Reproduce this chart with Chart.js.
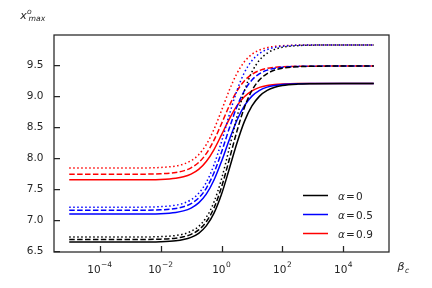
<!DOCTYPE html>
<html><head><meta charset="utf-8">
<script src="https://cdn.jsdelivr.net/npm/chart.js@4/dist/chart.umd.min.js"></script>
<style>html,body{margin:0;padding:0;background:#fff;}#wrap{width:432px;height:288px;}</style>
</head><body><div id="wrap"><canvas id="c" width="432" height="288"></canvas></div>
<script>
// beta_c values (x, log axis)
const betaC = [1e-5, 1e-4, 1e-3, 3.162e-3, 1e-2, 3.162e-2, 5.623e-2, 1e-1, 1.778e-1, 3.162e-1, 5.623e-1, 1, 1.778, 3.162, 5.623, 10, 17.78, 31.62, 56.23, 100, 316.2, 1000, 1e4, 1e5];
// alpha = 0 (black)
const a0_solid  = [6.65,6.65,6.65,6.652,6.656,6.671,6.690,6.726,6.791,6.910,7.110,7.418,7.817,8.231,8.587,8.839,8.997,9.088,9.140,9.168,9.190,9.196,9.20,9.20];
const a0_dashed = [6.69,6.69,6.691,6.692,6.697,6.713,6.734,6.774,6.845,6.976,7.195,7.532,7.969,8.422,8.812,9.088,9.261,9.360,9.416,9.447,9.470,9.477,9.48,9.48];
const a0_dotted = [6.73,6.73,6.731,6.732,6.737,6.755,6.778,6.822,6.901,7.046,7.289,7.663,8.147,8.648,9.080,9.386,9.577,9.687,9.749,9.783,9.809,9.817,9.82,9.82];
// alpha = 0.5 (blue)
const a5_solid  = [7.10,7.10,7.101,7.102,7.107,7.127,7.151,7.197,7.280,7.421,7.644,7.946,8.287,8.602,8.841,8.997,9.090,9.142,9.169,9.184,9.196,9.199,9.20,9.20];
const a5_dashed = [7.16,7.16,7.161,7.162,7.168,7.190,7.217,7.267,7.359,7.515,7.761,8.095,8.471,8.819,9.083,9.256,9.358,9.415,9.446,9.462,9.475,9.479,9.48,9.48];
const a5_dotted = [7.21,7.21,7.211,7.212,7.219,7.243,7.274,7.331,7.433,7.609,7.886,8.262,8.685,9.076,9.374,9.568,9.683,9.747,9.782,9.800,9.815,9.818,9.82,9.82];
// alpha = 0.9 (red)
const a9_solid  = [7.65,7.65,7.650,7.652,7.657,7.676,7.699,7.742,7.818,7.945,8.134,8.374,8.624,8.837,8.988,9.082,9.137,9.167,9.183,9.191,9.198,9.199,9.20,9.20];
const a9_dashed = [7.74,7.74,7.741,7.742,7.748,7.769,7.795,7.843,7.929,8.071,8.284,8.553,8.834,9.072,9.242,9.348,9.409,9.443,9.460,9.470,9.477,9.479,9.48,9.48];
const a9_dotted = [7.84,7.84,7.841,7.842,7.849,7.873,7.903,7.958,8.055,8.217,8.459,8.765,9.084,9.356,9.549,9.670,9.739,9.777,9.798,9.808,9.817,9.819,9.82,9.82];

const xTickValues = [1e-4, 1e-2, 1, 1e2, 1e4];
const xTickBase = '10';
const xTickExps = ['\u22124', '\u22122', '0', '2', '4'];
const yTickValues = [6.5, 7.0, 7.5, 8.0, 8.5, 9.0, 9.5];
const legendNums = ['0', '0.5', '0.9'];
const colors = ['#000000', '#0000ff', '#ff0000'];

const TXT = '#262626';
const mk = (arr, color, dash) => ({
  data: betaC.map((x, i) => ({x: x, y: arr[i]})),
  borderColor: color, borderWidth: 1.5, borderDash: dash,
  pointRadius: 0, fill: false, cubicInterpolationMode: 'monotone', borderCapStyle: 'butt'
});
const DASH = [5.5, 2.4], DOT = [1.5, 2.5];

const decor = {
  id: 'decor',
  afterDraw(chart) {
    const ctx = chart.ctx, a = chart.chartArea;
    const xs = chart.scales.x, ys = chart.scales.y;
    ctx.save();
    ctx.strokeStyle = TXT; ctx.lineWidth = 1.25;
    ctx.strokeRect(a.left, a.top, a.right - a.left, a.bottom - a.top);
    ctx.beginPath();
    xTickValues.forEach(v => { const p = Math.round(xs.getPixelForValue(v)) + 0.5; ctx.moveTo(p, a.bottom); ctx.lineTo(p, a.bottom - 6); });
    yTickValues.forEach(v => { const p = Math.round(ys.getPixelForValue(v)) + 0.5; ctx.moveTo(a.left, p); ctx.lineTo(a.left + 6, p); });
    ctx.stroke();
    ctx.fillStyle = TXT;
    ctx.textBaseline = 'alphabetic'; ctx.textAlign = 'left';
    // x tick labels 10^n
    xTickValues.forEach((v, i) => {
      const p = xs.getPixelForValue(v);
      ctx.font = '10.5px "DejaVu Sans"';
      const wb = ctx.measureText(xTickBase).width;
      ctx.font = '7.5px "DejaVu Sans"';
      const we = ctx.measureText(xTickExps[i]).width;
      const x0 = p - (wb + we + 0.5) / 2;
      ctx.font = '10.5px "DejaVu Sans"';
      ctx.fillText(xTickBase, x0, 272.5);
      ctx.font = '7.5px "DejaVu Sans"';
      ctx.fillText(xTickExps[i], x0 + wb + 0.5, 267);
    });
    // y label x^o_max
    ctx.font = 'italic 11px "DejaVu Sans"';
    ctx.fillText('x', 20.3, 18.5);
    ctx.font = 'italic 7.7px "DejaVu Sans"';
    ctx.fillText('o', 27, 13.5);
    ctx.fillText('max', 28.5, 21);
    // x label beta_c
    ctx.font = 'italic 11px "DejaVu Sans"';
    ctx.fillText('\u03B2', 397.5, 269.5);
    ctx.font = 'italic 7.7px "DejaVu Sans"';
    ctx.fillText('c', 405, 272.5);
    // legend
    const ly = [195.5, 214.5, 233.5];
    for (let i = 0; i < 3; i++) {
      ctx.strokeStyle = colors[i]; ctx.lineWidth = 1.5; ctx.setLineDash([]);
      ctx.beginPath(); ctx.moveTo(303, ly[i]); ctx.lineTo(328, ly[i]); ctx.stroke();
      ctx.fillStyle = TXT;
      let x = 338;
      ctx.font = 'italic 10.5px "DejaVu Sans"';
      ctx.fillText('\u03B1', x, ly[i] + 4); x += ctx.measureText('\u03B1').width + 1.2;
      ctx.font = '10.5px "DejaVu Sans"';
      ctx.fillText('=', x, ly[i] + 4); x += ctx.measureText('=').width + 1.2;
      ctx.fillText(legendNums[i], x, ly[i] + 4);
    }
    ctx.restore();
  }
};

new Chart(document.getElementById('c'), {
  type: 'line',
  data: { datasets: [
    mk(a0_solid, colors[0], []), mk(a0_dashed, colors[0], DASH), mk(a0_dotted, colors[0], DOT),
    mk(a5_solid, colors[1], []), mk(a5_dashed, colors[1], DASH), mk(a5_dotted, colors[1], DOT),
    mk(a9_solid, colors[2], []), mk(a9_dashed, colors[2], DASH), mk(a9_dotted, colors[2], DOT)
  ]},
  options: {
    responsive: false, animation: false, devicePixelRatio: 1,
    layout: { padding: { top: 35, right: 43, left: 0, bottom: 0 } },
    plugins: { legend: { display: false }, tooltip: { enabled: false } },
    scales: {
      x: {
        type: 'logarithmic', min: Math.pow(10, -5.5), max: Math.pow(10, 5.5),
        afterBuildTicks: s => { s.ticks = xTickValues.map(v => ({value: v})); },
        afterFit: s => { s.height = 36; },
        grid: { display: false, drawTicks: false },
        border: { display: false },
        ticks: { display: false }
      },
      y: {
        type: 'linear', min: 6.49, max: 9.98,
        afterBuildTicks: s => { s.ticks = yTickValues.map(v => ({value: v})); },
        afterFit: s => { s.width = 54; },
        grid: { display: false, drawTicks: false },
        border: { display: false },
        ticks: { padding: 10.5, color: TXT, font: { family: '"DejaVu Sans"', size: 10.5 },
          callback: v => Number(v).toFixed(1) }
      }
    }
  },
  plugins: [decor]
});
</script></body></html>
